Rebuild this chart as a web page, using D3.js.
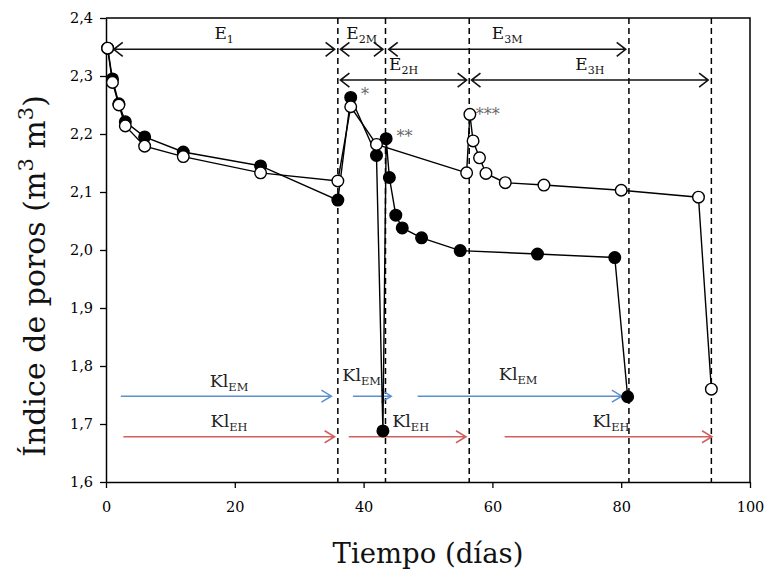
<!DOCTYPE html>
<html>
<head>
<meta charset="utf-8">
<script src="https://cdn.jsdelivr.net/npm/d3@7"></script>
<style>
  body { margin: 0; background: #fff; }
  svg text { font-family: "DejaVu Serif", "Liberation Serif", serif; }
</style>
</head>
<body>
<div class="canvas"></div>
<script>
// series M (filled circles)
const timeM = [0.25, 1, 2, 3, 6, 12, 24, 36, 38, 42, 43, 43.5, 44, 45, 46, 49, 55, 67, 79, 81];
const poreM = [2.348, 2.295, 2.252, 2.221, 2.195, 2.169, 2.145, 2.086, 2.263, 2.163, 1.688, 2.192, 2.125, 2.060, 2.038, 2.021, 1.999, 1.993, 1.987, 1.747];

// series H (open circles)
const timeH = [0.25, 1, 2, 3, 6, 12, 24, 36, 38, 42, 56, 56.5, 57, 58, 59, 62, 68, 80, 92, 94];
const poreH = [2.348, 2.289, 2.250, 2.214, 2.179, 2.161, 2.133, 2.119, 2.247, 2.182, 2.133, 2.234, 2.188, 2.159, 2.132, 2.116, 2.112, 2.103, 2.091, 1.760];

// axis ticks
const xTicks = [0, 20, 40, 60, 80, 100];
const yTicks = [1.6, 1.7, 1.8, 1.9, 2.0, 2.1, 2.2, 2.3, 2.4];

// stage boundaries (dashed lines)
const stageLines = [36, 43.4, 56.4, 81.2, 94];

// stage arrows
const stageSub = ['1', '2M', '3M', '2H', '3H'];
const stageFrom = [1.2, 36.4, 43.9, 36.4, 56.75];
const stageTo = [35.5, 43.0, 80.7, 56.0, 93.5];
const stageLevel = [2.346, 2.346, 2.346, 2.293, 2.293];

// Kl arrows
const klMFrom = [2.3, 38.35, 48.4];
const klMTo = [35.0, 44.3, 80.1];
const klMLevel = 1.748;
const klMLabelX = [19.1, 39.7, 64];
const klMLabelY = [1.764, 1.774, 1.776];

const klHFrom = [2.7, 37.7, 61.9];
const klHTo = [35.5, 55.9, 94.1];
const klHLevel = 1.678;
const klHLabelX = [19.1, 47.3, 78.4];
const klHLabelY = [1.695, 1.695, 1.695];

// asterisk notes
const noteText = ['*', '**', '***'];
const noteX = [39.6, 45.1, 57.4];
const noteY = [2.258, 2.186, 2.224];

const svg = d3.select('.canvas')
    .append('svg')
    .attr('width', 766)
    .attr('height', 573);

const margin = { top: 18, right: 16, bottom: 91, left: 106 };
const graphWidth = 766 - margin.left - margin.right;
const graphHeight = 573 - margin.top - margin.bottom;

const graph = svg.append('g')
    .attr('transform', `translate(${margin.left}, ${margin.top})`);

const x = d3.scaleLinear().domain([0, 100]).range([0, graphWidth]);
const y = d3.scaleLinear().domain([1.6, 2.4]).range([graphHeight, 0]);

// frame top + right
graph.append('path')
    .attr('d', `M0,0H${graphWidth}V${graphHeight}`)
    .attr('fill', 'none')
    .attr('stroke', '#000')
    .attr('stroke-width', 1.5);

// axes
const xAxis = d3.axisBottom(x).tickValues(xTicks).tickSize(6).tickSizeOuter(0).tickFormat(d3.format('d'));
const yAxis = d3.axisLeft(y).tickValues(yTicks).tickSize(6).tickSizeOuter(0).tickFormat(d => d.toFixed(1).replace('.', ','));

const xAxisGroup = graph.append('g')
    .attr('transform', `translate(0, ${graphHeight})`)
    .call(xAxis);
const yAxisGroup = graph.append('g').call(yAxis);

[xAxisGroup, yAxisGroup].forEach(g => {
    g.select('.domain').attr('stroke-width', 1.5);
    g.selectAll('.tick line').attr('stroke-width', 1.3);
    g.selectAll('text')
        .attr('font-family', '"DejaVu Serif", serif')
        .attr('font-size', 14.5)
        .attr('fill', '#000');
});
xAxisGroup.selectAll('text').attr('dy', '1.45em');
yAxisGroup.selectAll('text').attr('x', -13);

// dashed stage lines
graph.selectAll('.stage-line')
    .data(stageLines)
    .enter()
    .append('line')
    .attr('x1', d => x(d))
    .attr('x2', d => x(d))
    .attr('y1', 0)
    .attr('y2', graphHeight)
    .attr('stroke', '#000')
    .attr('stroke-width', 1.5)
    .attr('stroke-dasharray', '6,4');

// arrow helper
const arrow = (g, x0, x1, yv, color, both, headLen, headH, width) => {
    const yy = y(yv);
    const a = x(x0), b = x(x1);
    let d = `M${a},${yy}H${b}M${b - headLen},${yy - headH}L${b},${yy}L${b - headLen},${yy + headH}`;
    if (both) d += `M${a + headLen},${yy - headH}L${a},${yy}L${a + headLen},${yy + headH}`;
    g.append('path')
        .attr('d', d)
        .attr('fill', 'none')
        .attr('stroke', color)
        .attr('stroke-width', width);
};

const subLabel = (g, px, py, main, sub, size, color) => {
    const t = g.append('text')
        .attr('x', px)
        .attr('y', py)
        .attr('text-anchor', 'middle')
        .attr('font-size', size)
        .attr('fill', color);
    t.append('tspan').text(main);
    t.append('tspan')
        .attr('font-size', size * 0.65)
        .attr('dy', size * 0.22)
        .text(sub);
};

// stage arrows + labels
stageSub.forEach((s, i) => {
    arrow(graph, stageFrom[i], stageTo[i], stageLevel[i], '#111', true, 9, 7, 1.6);
    subLabel(graph, x((stageFrom[i] + stageTo[i]) / 2), y(stageLevel[i]) - 10, 'E', s, 17, '#111');
});

// Kl arrows
klMFrom.forEach((d, i) => {
    arrow(graph, d, klMTo[i], klMLevel, '#5b8fd0', false, 10, 6, 1.5);
    subLabel(graph, x(klMLabelX[i]), y(klMLabelY[i]), 'Kl', 'EM', 17.5, '#222');
});
klHFrom.forEach((d, i) => {
    arrow(graph, d, klHTo[i], klHLevel, '#d0605e', false, 10, 6, 1.5);
    subLabel(graph, x(klHLabelX[i]), y(klHLabelY[i]), 'Kl', 'EH', 17.5, '#222');
});

// series
const line = d3.line().x(d => x(d[0])).y(d => y(d[1]));
const dataM = timeM.map((t, i) => [t, poreM[i]]);
const dataH = timeH.map((t, i) => [t, poreH[i]]);

const drawSeries = (data, fill) => {
    graph.append('path')
        .datum(data)
        .attr('d', line)
        .attr('fill', 'none')
        .attr('stroke', '#000')
        .attr('stroke-width', 1.4);
    graph.selectAll(null)
        .data(data)
        .enter()
        .append('circle')
        .attr('cx', d => x(d[0]))
        .attr('cy', d => y(d[1]))
        .attr('r', 5.8)
        .attr('fill', fill)
        .attr('stroke', '#000')
        .attr('stroke-width', 1.4);
};
drawSeries(dataM, '#000');
drawSeries(dataH, '#fff');

// asterisks
graph.selectAll('.note')
    .data(noteText)
    .enter()
    .append('text')
    .attr('x', (d, i) => x(noteX[i]))
    .attr('y', (d, i) => y(noteY[i]))
    .attr('font-size', 16)
    .attr('fill', '#666')
    .text(d => d);

// axis titles
svg.append('text')
    .attr('x', margin.left + graphWidth / 2)
    .attr('y', 563)
    .attr('text-anchor', 'middle')
    .attr('font-size', 27.5)
    .attr('fill', '#111')
    .text('Tiempo (días)');

const yTitle = svg.append('text')
    .attr('transform', `translate(45, ${margin.top + graphHeight / 2 + 26}) rotate(-90)`)
    .attr('text-anchor', 'middle')
    .attr('font-size', 30)
    .attr('fill', '#111');
yTitle.append('tspan').text('Índice de poros (m');
yTitle.append('tspan').attr('font-size', 21).attr('dy', -12).text('3');
yTitle.append('tspan').attr('dy', 12).text(' m');
yTitle.append('tspan').attr('font-size', 21).attr('dy', -12).text('3');
yTitle.append('tspan').attr('dy', 12).text(')');
</script>
</body>
</html>
